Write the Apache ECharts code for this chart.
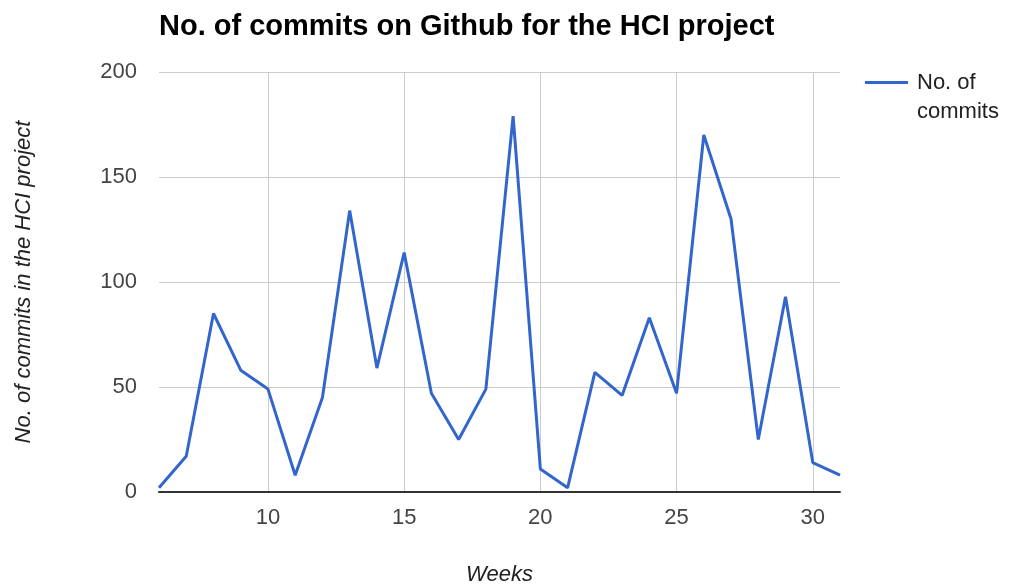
<!DOCTYPE html>
<html>
<head>
<meta charset="utf-8">
<title>No. of commits on Github</title>
<script src="https://cdn.jsdelivr.net/npm/echarts@6/dist/echarts.min.js"></script>
<style>
    html, body { margin: 0; padding: 0; background: #fff; }
    #chart { width: 1012px; height: 587px; }
</style>
</head>
<body>
<div id="chart"></div>
<script>
// weeks 6..31 and commits
var weeks = [6, 7, 8, 9, 10, 11, 12, 13, 14, 15, 16, 17, 18, 19, 20, 21, 22, 23, 24, 25, 26, 27, 28, 29, 30, 31];
var commits = [2, 17, 85, 58, 49, 8, 45, 134, 59, 114, 47, 25, 49, 179, 11, 2, 57, 46, 83, 47, 170, 130, 25, 93, 14, 8];
var xTicks = [10, 15, 20, 25, 30];

var font = '"Liberation Sans", Arial, sans-serif';

var points = [];
for (var i = 0; i < weeks.length; i++) {
    points.push([weeks[i], commits[i]]);
}

var chart = echarts.init(document.getElementById('chart'));
chart.setOption({
    animation: false,
    title: {
        text: 'No. of commits on Github for the HCI project',
        left: 159,
        top: 12,
        padding: 0,
        textStyle: { fontFamily: font, fontSize: 29, fontWeight: 'bold', color: '#000' }
    },
    legend: {
        left: 865,
        top: 39,
        padding: 0,
        itemWidth: 43,
        itemHeight: 14,
        icon: 'path://M0,6L43,6L43,9L0,9Z',
        formatter: function () { return '\nNo. of\ncommits'; },
        textStyle: { fontFamily: font, fontSize: 22, color: '#222', lineHeight: 29, padding: [0, 0, 0, 4] }
    },
    grid: { left: 159, right: 172, top: 72, bottom: 95, outerBoundsMode: 'none' },
    xAxis: {
        type: 'value',
        min: 6,
        max: 31,
        name: 'Weeks',
        nameLocation: 'middle',
        nameGap: 72,
        nameTextStyle: { fontFamily: font, fontSize: 22, fontStyle: 'italic', color: '#222' },
        axisLine: { show: true, lineStyle: { color: '#333', width: 2 } },
        axisTick: { show: false, customValues: xTicks },
        axisLabel: { customValues: xTicks, margin: 15, fontFamily: font, fontSize: 22, color: '#444' },
        splitLine: { show: true, lineStyle: { color: '#ccc', width: 1 } }
    },
    yAxis: {
        type: 'value',
        min: 0,
        max: 200,
        interval: 50,
        name: 'No. of commits in the HCI project',
        nameLocation: 'middle',
        nameGap: 124,
        nameTextStyle: { fontFamily: font, fontSize: 22, fontStyle: 'italic', color: '#222' },
        axisLine: { show: false },
        axisTick: { show: false },
        axisLabel: { margin: 22, fontFamily: font, fontSize: 22, color: '#444' },
        splitLine: { lineStyle: { color: '#ccc', width: 1 } }
    },
    series: [{
        name: 'No. of commits',
        type: 'line',
        data: points,
        symbol: 'none',
        lineStyle: { color: '#3366cc', width: 3 },
        itemStyle: { color: '#3366cc' }
    }]
});
</script>
</body>
</html>
